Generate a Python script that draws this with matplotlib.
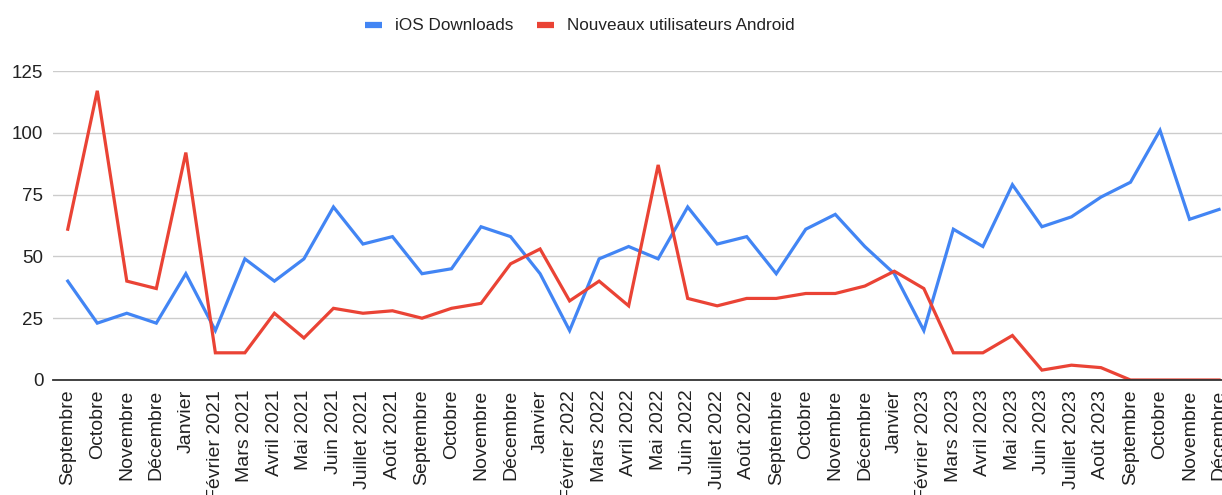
import matplotlib.pyplot as plt
from matplotlib.lines import Line2D

plt.rcParams['font.family'] = ['Liberation Sans', 'DejaVu Sans']

mois = ['Septembre', 'Octobre', 'Novembre', 'Décembre', 'Janvier',
        'Février 2021', 'Mars 2021', 'Avril 2021', 'Mai 2021', 'Juin 2021',
        'Juillet 2021', 'Août 2021', 'Septembre', 'Octobre', 'Novembre',
        'Décembre', 'Janvier', 'Février 2022', 'Mars 2022', 'Avril 2022',
        'Mai 2022', 'Juin 2022', 'Juillet 2022', 'Août 2022', 'Septembre',
        'Octobre', 'Novembre', 'Décembre', 'Janvier', 'Février 2023',
        'Mars 2023', 'Avril 2023', 'Mai 2023', 'Juin 2023', 'Juillet 2023',
        'Août 2023', 'Septembre', 'Octobre', 'Novembre', 'Décembre']

ios = [40, 23, 27, 23, 43, 20, 49, 40, 49, 70,
       55, 58, 43, 45, 62, 58, 43, 20, 49, 54,
       49, 70, 55, 58, 43, 61, 67, 54, 43, 20,
       61, 54, 79, 62, 66, 74, 80, 101, 65, 69]

android = [61, 117, 40, 37, 92, 11, 11, 27, 17, 29,
           27, 28, 25, 29, 31, 47, 53, 32, 40, 30,
           87, 33, 30, 33, 33, 35, 35, 38, 44, 37,
           11, 11, 18, 4, 6, 5, 0, 0, 0, 0]

bleu = '#4285F4'
rouge = '#EA4335'

fig = plt.figure(figsize=(12.22, 4.95), dpi=100)
ax = fig.add_axes([53 / 1222, 115 / 495, 1 - 53 / 1222, 309 / 495])

x = range(len(mois))
ax.plot(x, ios, color=bleu, lw=2.3, solid_joinstyle='miter')
ax.plot(x, android, color=rouge, lw=2.3, solid_joinstyle='miter')

ax.set_ylim(0, 125)
ax.set_xlim(-0.5, 39.1)
ax.set_yticks([0, 25, 50, 75, 100, 125])
ax.set_xticks(list(x))
ax.set_xticklabels(mois, rotation=90, va='top', ha='center')
ax.tick_params(axis='both', length=0, colors='#222222')
ax.tick_params(axis='x', pad=7, labelsize=14)
ax.tick_params(axis='y', pad=7, labelsize=13.5)
ax.grid(axis='y', color='#cccccc', lw=1)
ax.set_axisbelow(True)
for s in ['top', 'right', 'left']:
    ax.spines[s].set_visible(False)
ax.spines['bottom'].set_color('#333333')
ax.spines['bottom'].set_linewidth(1.3)
ax.spines['bottom'].set_zorder(3)

handles = [Line2D([], [], color=bleu, lw=4.5, solid_capstyle='butt'),
           Line2D([], [], color=rouge, lw=4.5, solid_capstyle='butt')]
fig.legend(handles, ['iOS Downloads', 'Nouveaux utilisateurs Android'],
           loc='center', bbox_to_anchor=(580 / 1222, 1 - 26 / 495),
           ncol=2, frameon=False, fontsize=12.3, handlelength=1.0,
           handletextpad=0.76, columnspacing=1.4, labelcolor='#222222')

fig.savefig('out.png', dpi=100)
